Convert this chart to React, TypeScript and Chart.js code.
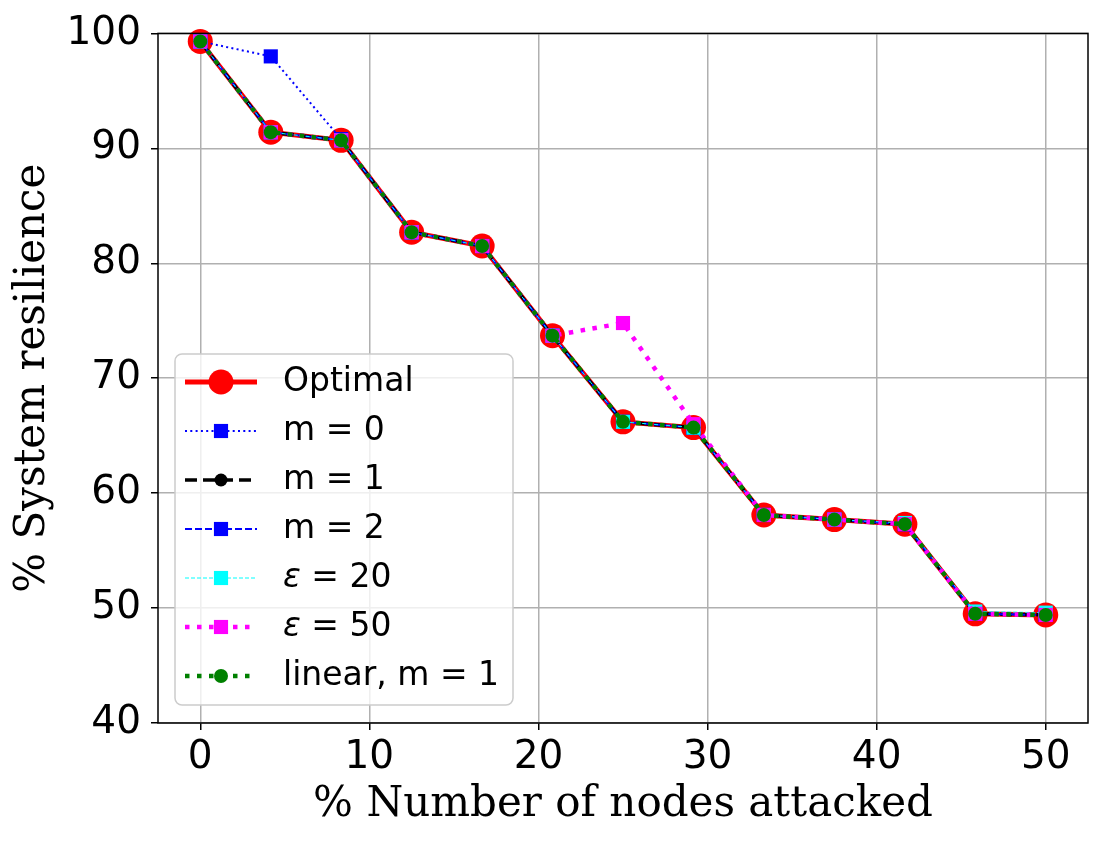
import React, { useEffect, useRef } from "react";
import { Chart, registerables } from "chart.js";
Chart.register(...registerables);

const xValues = [0, 4.17, 8.33, 12.5, 16.67, 20.83, 25, 29.17, 33.33, 37.5, 41.67, 45.83, 50];
const optimal = [99.3, 91.4, 90.7, 82.7, 81.5, 73.7, 66.2, 65.7, 58.1, 57.7, 57.3, 49.5, 49.4];
const m0 = [99.3, 98.0, 90.8, 82.7, 81.5, 73.7, 66.2, 65.7, 58.1, 57.7, 57.3, 49.5, 49.4];
const m1 = [99.3, 91.4, 90.7, 82.7, 81.5, 73.7, 66.2, 65.7, 58.1, 57.7, 57.3, 49.5, 49.4];
const m2 = [99.3, 91.4, 90.7, 82.7, 81.5, 73.7, 66.2, 65.7, 58.1, 57.7, 57.3, 49.5, 49.4];
const eps20 = [99.3, 91.4, 90.7, 82.7, 81.5, 73.7, 66.2, 65.7, 58.1, 57.7, 57.4, 49.7, 49.6];
const eps50 = [99.3, 91.4, 90.7, 82.7, 81.5, 73.7, 74.8, 66.0, 58.1, 57.7, 57.3, 49.5, 49.4];
const linearM1 = [99.3, 91.4, 90.7, 82.7, 81.5, 73.7, 66.2, 65.7, 58.1, 57.7, 57.3, 49.5, 49.4];

const xTicks = [0, 10, 20, 30, 40, 50];
const yTicks = [40, 50, 60, 70, 80, 90, 100];

const xLabel = "% Number of nodes attacked";
const yLabel = "% System resilience";

type Style = {
  label: string[];
  color: string;
  width: number;
  dash: number[];
  point: "circle" | "rect";
  radius: number;
};

const styles: Style[] = [
  { label: ["", "Optimal"], color: "#ff0000", width: 5, dash: [], point: "circle", radius: 12.5 },
  { label: ["", "m = 0"], color: "#0000ff", width: 2, dash: [2, 3.3], point: "rect", radius: 10 },
  { label: ["", "m = 1"], color: "#000000", width: 3.5, dash: [12, 6], point: "circle", radius: 6.5 },
  { label: ["", "m = 2"], color: "#0000ff", width: 2, dash: [7, 3], point: "rect", radius: 10 },
  { label: ["ε", " = 20"], color: "#00ffff", width: 1, dash: [4, 2], point: "rect", radius: 10 },
  { label: ["ε", " = 50"], color: "#ff00ff", width: 4.5, dash: [4.5, 7.5], point: "rect", radius: 10 },
  { label: ["", "linear, m = 1"], color: "#008000", width: 4.5, dash: [4.5, 7.5], point: "circle", radius: 7 },
];
const seriesList = [optimal, m0, m1, m2, eps20, eps50, linearM1];

const drawMarker = (ctx: CanvasRenderingContext2D, s: Style, x: number, y: number) => {
  ctx.save();
  ctx.setLineDash([]);
  ctx.fillStyle = s.color;
  ctx.beginPath();
  if (s.point === "circle") {
    ctx.arc(x, y, s.radius, 0, Math.PI * 2);
  } else {
    const h = s.radius * Math.SQRT1_2;
    ctx.rect(x - h, y - h, 2 * h, 2 * h);
  }
  ctx.fill();
  ctx.restore();
};

const overlayPlugin = {
  id: "overlay",
  afterDraw(chart: any) {
    const ctx: CanvasRenderingContext2D = chart.ctx;
    const a = chart.chartArea;
    ctx.save();
    ctx.strokeStyle = "#000";
    ctx.lineWidth = 1.5;
    ctx.setLineDash([]);
    ctx.strokeRect(a.left, a.top, a.right - a.left, a.bottom - a.top);

    const lx = 175, ly = 354, lw = 338, lh = 351, r = 7;
    ctx.beginPath();
    ctx.moveTo(lx + r, ly);
    ctx.arcTo(lx + lw, ly, lx + lw, ly + lh, r);
    ctx.arcTo(lx + lw, ly + lh, lx, ly + lh, r);
    ctx.arcTo(lx, ly + lh, lx, ly, r);
    ctx.arcTo(lx, ly, lx + lw, ly, r);
    ctx.closePath();
    ctx.fillStyle = "rgba(255,255,255,0.8)";
    ctx.fill();
    ctx.strokeStyle = "#cccccc";
    ctx.lineWidth = 1.5;
    ctx.stroke();

    styles.forEach((s, i) => {
      const y = 382 + i * 49;
      ctx.save();
      ctx.strokeStyle = s.color;
      ctx.lineWidth = s.width;
      ctx.setLineDash(s.dash);
      ctx.beginPath();
      ctx.moveTo(185, y);
      ctx.lineTo(257, y);
      ctx.stroke();
      ctx.restore();
      drawMarker(ctx, s, 221, y);
      ctx.fillStyle = "#000";
      ctx.textBaseline = "middle";
      ctx.textAlign = "left";
      let tx = 283;
      if (s.label[0]) {
        ctx.font = "italic 33px 'DejaVu Sans'";
        ctx.fillText(s.label[0], tx, y);
        tx += ctx.measureText(s.label[0]).width;
      }
      ctx.font = "33px 'DejaVu Sans'";
      ctx.fillText(s.label[1], tx, y);
    });
    ctx.restore();
  },
};

export default function App() {
  const ref = useRef<HTMLCanvasElement>(null);
  useEffect(() => {
    document.body.style.margin = "0";
    const canvas = ref.current!;
    const chart = new Chart(canvas, {
      type: "line",
      data: {
        datasets: styles.map((s, i) => ({
          label: s.label.join(""),
          data: xValues.map((x, j) => ({ x, y: seriesList[i][j] })),
          borderColor: s.color,
          backgroundColor: s.color,
          borderWidth: s.width,
          borderDash: s.dash,
          pointStyle: s.point,
          pointRadius: s.radius,
          pointHoverRadius: s.radius,
          pointBackgroundColor: s.color,
          pointBorderWidth: 0,
          pointBorderColor: s.color,
          tension: 0,
          fill: false,
          order: styles.length - i,
          clip: false as any,
        })),
      },
      options: {
        responsive: false,
        animation: false,
        devicePixelRatio: 1,
        events: [],
        layout: { padding: { left: 0, top: 31, right: 23, bottom: 0 } },
        plugins: { legend: { display: false }, tooltip: { enabled: false } },
        scales: {
          x: {
            type: "linear",
            min: -2.5,
            max: 52.5,
            afterBuildTicks: (scale: any) => {
              scale.ticks = xTicks.map((v) => ({ value: v }));
            },
            afterFit: (scale: any) => {
              scale.height = 120;
            },
            border: { display: false },
            grid: { color: "#b0b0b0", lineWidth: 1.5, tickColor: "#000", tickLength: 7, tickWidth: 1.5 },
            ticks: {
              color: "#000",
              font: { family: "'DejaVu Sans'", size: 39 },
              padding: 4,
              maxRotation: 0,
              autoSkip: false,
            },
            title: {
              display: true,
              text: xLabel,
              color: "#000",
              font: { family: "'DejaVu Serif'", size: 42 },
              padding: { top: 0, bottom: 13 },
            },
          },
          y: {
            type: "linear",
            min: 40,
            max: 100,
            afterBuildTicks: (scale: any) => {
              scale.ticks = yTicks.map((v) => ({ value: v }));
            },
            afterFit: (scale: any) => {
              scale.width = 158;
            },
            border: { display: false },
            grid: { color: "#b0b0b0", lineWidth: 1.5, tickColor: "#000", tickLength: 7, tickWidth: 1.5 },
            ticks: {
              color: "#000",
              font: { family: "'DejaVu Sans'", size: 39 },
              padding: 10,
              autoSkip: false,
            },
            title: {
              display: true,
              text: yLabel,
              color: "#000",
              font: { family: "'DejaVu Serif'", size: 42 },
              padding: { top: 8, bottom: 0 },
            },
          },
        },
      },
      plugins: [overlayPlugin],
    });
    return () => chart.destroy();
  }, []);
  return (
    <div style={{ width: 1111, height: 843, position: "relative" }}>
      <canvas ref={ref} width={1111} height={843} style={{ display: "block" }} />
    </div>
  );
}
